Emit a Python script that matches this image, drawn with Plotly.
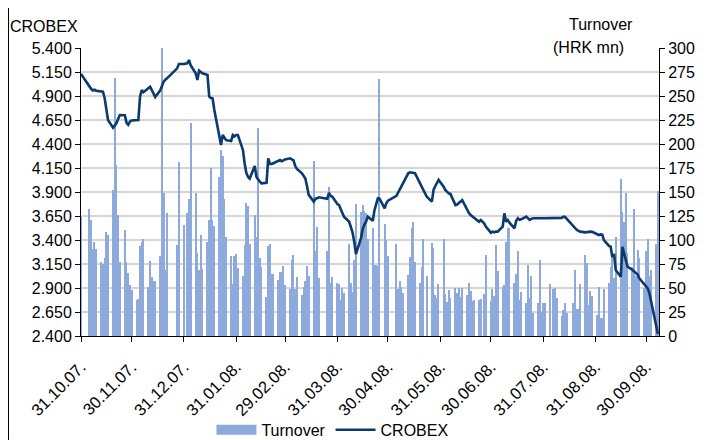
import pandas as pd
import plotly.graph_objects as go

# ---------------- data ----------------
HOLIDAYS = ["2007-11-01", "2007-11-02", "2007-12-24", "2007-12-25", "2007-12-26",
            "2008-01-01", "2008-03-21", "2008-03-24", "2008-05-01", "2008-05-02",
            "2008-05-22", "2008-06-25", "2008-08-05", "2008-08-15"]
START_DATE = "2007-10-31"
END_DATE = "2008-10-07"

turnover = [
    124,
    132, 121, 91, 98, 91,
    77, 75, 81, 108, 105,
    152, 269, 178, 126, 77,
    110, 77, 66, 53, 48,
    37, 39, 94, 98, 101,
    51, 78, 61, 57, 57,
    83, 304, 149, 69, 128,
    95, 181, 116,
    128, 143, 222,
    149, 86, 69, 105, 70,
    98, 121, 175, 121, 115,
    166, 194, 188, 143, 103,
    83, 54, 83, 85, 71,
    62, 95, 139, 135, 96,
    126, 103, 217, 81, 72,
    41, 94, 96, 65, 65,
    58, 67, 67, 73, 53,
    49, 79, 84, 49, 61,
    43, 51, 57, 73, 62,
    182, 89, 114, 60,
    89, 155, 55, 61,
    55, 54, 37, 50, 45,
    96, 55, 46, 79, 137,
    129, 136, 130, 128, 101,
    112, 74, 74, 73, 268,
    117, 100, 83,
    96, 49, 57, 51, 45,
    64, 82, 113, 119, 77,
    55, 72, 101, 62,
    97, 92, 43, 40, 54,
    101, 44, 35, 48, 40,
    50, 45, 50, 41, 50,
    43, 55, 47, 36, 38,
    37, 39, 44, 84,
    36, 49, 42, 95, 68,
    51, 53, 98, 113, 113,
    55, 65, 89, 37, 46,
    34, 74, 40, 62, 24,
    34, 79, 25, 34, 34,
    54, 49, 50, 40,
    21, 27, 34, 24,
    34, 69, 28, 28, 54,
    84, 76, 32, 47, 42,
    22, 51, 19, 19, 49,
    55, 72, 81, 60, 103,
    164, 129, 119, 149, 86,
    72, 132, 62, 90, 81,
    50, 89, 101, 62, 69,
    96, 151,
]

crobex = [
    5130,
    4990, 4975, 4958, 4965, 4955,
    4950, 4945, 4880, 4754, 4650,
    4570, 4595, 4616, 4660, 4702,
    4700, 4620, 4600, 4633, 4645,
    4650, 4650, 4893, 4962, 4940,
    4980, 4997, 4962, 4920, 4890,
    4960, 5015, 5050, 5070, 5084,
    5188, 5233, 5233,
    5240, 5275, 5220,
    5136, 5067, 5164, 5150, 5136,
    5119, 4893, 4880, 4876, 4760,
    4450, 4390, 4494, 4470, 4440,
    4430, 4494, 4480, 4494, 4494,
    4338, 4200, 4100, 4059, 4040,
    4171, 4059, 4030, 4007, 3990,
    3995, 4251, 4192, 4192, 4200,
    4220, 4233, 4220, 4230, 4240,
    4251, 4240, 4230, 4170, 4140,
    4095, 4070, 4040, 3960, 3870,
    3800, 3830, 3834, 3845,
    3830, 3890, 3860, 3850,
    3775, 3764, 3720, 3678, 3640,
    3590, 3540, 3478, 3380, 3254,
    3420, 3513, 3560, 3590, 3643,
    3600, 3712, 3782, 3834, 3830,
    3730, 3782, 3810,
    3860, 3893, 3921, 3950, 3990,
    4095, 4105, 4100, 4098, 4095,
    3990, 3955, 3921, 3850,
    3800, 3921, 3960, 3990, 4025,
    3955, 3920, 3904, 3886, 3880,
    3764, 3770, 3782, 3800, 3816,
    3700, 3680, 3660, 3645, 3626,
    3591, 3608, 3573, 3540,
    3476, 3487, 3480, 3487, 3487,
    3539, 3678, 3591, 3608, 3580,
    3522, 3600, 3626, 3610, 3615,
    3643, 3625, 3610, 3620, 3626,
    3626, 3628, 3628, 3626, 3626,
    3626, 3626, 3624, 3628,
    3630, 3643, 3640, 3620,
    3540, 3520, 3504, 3495, 3487,
    3480, 3485, 3490, 3487, 3485,
    3460, 3452, 3458, 3455, 3400,
    3338, 3330, 3220, 3255, 3088,
    3018, 3330, 3261, 3192, 3122,
    3088, 3070, 3053, 3040, 3000,
    2930, 2914, 2896, 2845, 2760,
    2520, 2420,
]

tick_dates = ["2007-10-31", "2007-11-30", "2007-12-31", "2008-01-31", "2008-02-29",
              "2008-03-31", "2008-04-30", "2008-05-31", "2008-06-30", "2008-07-31",
              "2008-08-31", "2008-09-30"]
tick_labels = ["31.10.07.", "30.11.07.", "31.12.07.", "31.01.08.", "29.02.08.",
               "31.03.08.", "30.04.08.", "31.05.08.", "30.06.08.", "31.07.08.",
               "31.08.08.", "30.09.08."]

dates = pd.bdate_range(START_DATE, END_DATE, freq="C", holidays=HOLIDAYS)
assert len(dates) == len(turnover) == len(crobex), (len(dates), len(turnover), len(crobex))

# ---------------- figure ----------------
FONT = "Liberation Sans, Arial, sans-serif"
BAR_COLOR = "#8EA9DB"
LINE_COLOR = "#0B3A6E"
DAY_MS = 86400000

fig = go.Figure()
fig.add_trace(go.Bar(x=dates, y=turnover, name="Turnover", marker_color=BAR_COLOR,
                     marker_line_width=0, width=0.72 * DAY_MS, yaxis="y",
                     showlegend=False))
fig.add_trace(go.Scatter(x=[None], y=[None], mode="lines", name="Turnover",
                         line=dict(color=BAR_COLOR, width=11), yaxis="y"))
fig.add_trace(go.Scatter(x=dates, y=crobex, mode="lines", name="CROBEX",
                         line=dict(color=LINE_COLOR, width=2.6), yaxis="y2"))

fig.update_layout(
    width=699, height=432,
    margin=dict(l=73, r=48, t=40, b=104, autoexpand=False),
    paper_bgcolor="white", plot_bgcolor="white",
    font=dict(family=FONT, size=16, color="black"),
    separators=",.",
    bargap=0,
    xaxis=dict(type="date", range=["2007-10-31 00:00", "2008-10-07 16:00"],
               tickvals=tick_dates, ticktext=tick_labels, tickangle=-45,
               ticks="outside", ticklen=5, tickcolor="black",
               showline=True, linecolor="black", linewidth=1,
               showgrid=False, zeroline=False, automargin=False,
               ticklabelstandoff=9,
               tickfont=dict(size=16.5)),
    yaxis=dict(side="right", range=[0, 300], dtick=25, tick0=0,
               ticks="outside", ticklen=5, tickcolor="black",
               showline=True, linecolor="black", linewidth=1,
               showgrid=True, gridcolor="#D6D6D6", gridwidth=2,
               zeroline=False, automargin=False, tickfont=dict(size=16)),
    yaxis2=dict(side="left", overlaying="y", range=[2400, 5400], dtick=250, tick0=2400,
                tickformat=",.0f", ticks="outside", ticklen=5, tickcolor="black",
                showline=True, linecolor="black", linewidth=1,
                showgrid=False, zeroline=False, automargin=False,
                tickfont=dict(size=16)),
    legend=dict(orientation="h", x=0.435, xanchor="center", y=-0.326, yanchor="middle",
                font=dict(size=16), itemwidth=40, traceorder="normal",
                bgcolor="rgba(0,0,0,0)"),
    annotations=[
        dict(text="CROBEX", xref="paper", yref="paper", x=-0.1263, y=1.075,
             xanchor="left", yanchor="middle", showarrow=False, font=dict(size=16)),
        dict(text="Turnover", xref="paper", yref="paper", x=0.90, y=1.08,
             xanchor="center", yanchor="middle", showarrow=False, font=dict(size=16)),
        dict(text="(HRK mn)", xref="paper", yref="paper", x=0.878, y=1.003,
             xanchor="center", yanchor="middle", showarrow=False, font=dict(size=16)),
    ],
    shapes=[
        dict(type="line", xref="paper", yref="paper",
             x0=-0.1254, x1=-0.1254, y0=-0.3611, y1=1.1389,
             line=dict(color="black", width=1), layer="above"),
        dict(type="line", xref="paper", yref="paper",
             x0=1.0709, x1=1.0709, y0=-0.3611, y1=1.1389,
             line=dict(color="black", width=1), layer="above"),
    ],
)

fig.write_html("out.html")
